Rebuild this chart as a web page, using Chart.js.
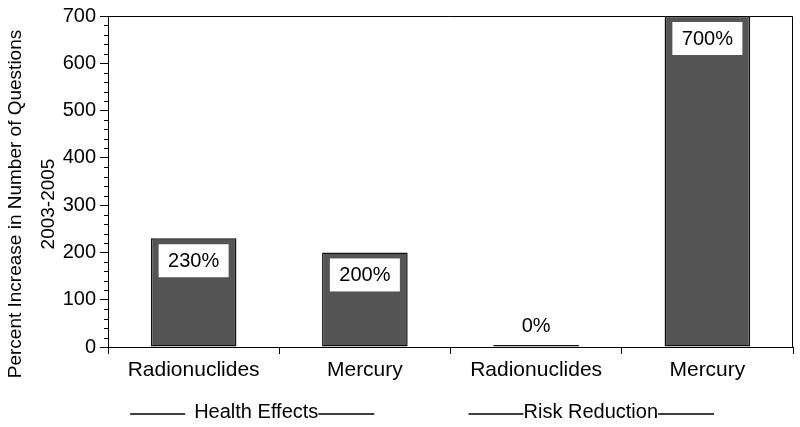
<!DOCTYPE html>
<html>
<head>
<meta charset="utf-8">
<script src="https://cdn.jsdelivr.net/npm/chart.js@4"></script>
<style>
  html, body { margin: 0; padding: 0; background: #fff; }
  #wrap { width: 800px; height: 427px; }
</style>
</head>
<body>
<div id="wrap"><canvas id="chart" width="800" height="427"></canvas></div>
<script>
// Data
const categories = ['Radionuclides', 'Mercury', 'Radionuclides', 'Mercury'];
const percentIncrease = [230, 200, 0, 700];
const groupNames = ['Health Effects', 'Risk Reduction'];
const yTitle = ['Percent Increase in Number of Questions', '2003-2005'];

const FONT = "'Liberation Sans', Arial, Helvetica, sans-serif";

// how each group caption sits: shift from the group centre, gap before text
const groupShift = [-23, -31];
const groupGap = [9, 0];

// Extra drawing: frame, minor ticks, value boxes, group labels, y title
const extras = {
    id: 'extras',
    afterDatasetsDraw(chart) {
        const ctx = chart.ctx;
        const area = chart.chartArea;
        const x = chart.scales.x;
        const y = chart.scales.y;
        ctx.save();

        // top and right frame
        ctx.strokeStyle = '#000';
        ctx.lineWidth = 1;
        ctx.beginPath();
        ctx.moveTo(area.left, area.top + 0.5);
        ctx.lineTo(area.right - 0.5, area.top + 0.5);
        ctx.lineTo(area.right - 0.5, area.bottom);
        ctx.stroke();

        // minor ticks every 20
        ctx.beginPath();
        for (let v = 20; v < 700; v += 20) {
            if (v % 100 === 0) continue;
            const py = Math.round(y.getPixelForValue(v)) + 0.5;
            ctx.moveTo(area.left - 4, py);
            ctx.lineTo(area.left, py);
        }
        ctx.stroke();

        // value labels
        const bars = chart.getDatasetMeta(0).data;
        ctx.font = '20px ' + FONT;
        ctx.textAlign = 'center';
        ctx.textBaseline = 'middle';
        bars.forEach((bar, i) => {
            const txt = percentIncrease[i] + '%';
            if (percentIncrease[i] > 0) {
                const top = bar.y + 6;
                ctx.fillStyle = '#fff';
                ctx.fillRect(bar.x - 35, top, 70, 33);
                ctx.fillStyle = '#000';
                ctx.fillText(txt, bar.x, top + 17);
            } else {
                ctx.fillStyle = '#000';
                ctx.fillText(txt, bar.x, bar.y - 19);
            }
        });

        // group labels with lines
        ctx.font = '20px ' + FONT;
        ctx.lineWidth = 1.5;
        groupNames.forEach((name, g) => {
            const a = x.getPixelForValue(g * 2);
            const b = x.getPixelForValue(g * 2 + 1);
            const mid = (a + b) / 2 + groupShift[g];
            const w = ctx.measureText(name).width;
            const ly = 414;
            ctx.fillStyle = '#000';
            ctx.fillText(name, mid, ly - 2);
            ctx.beginPath();
            ctx.moveTo(mid - w / 2 - groupGap[g] - 55, ly);
            ctx.lineTo(mid - w / 2 - groupGap[g], ly);
            ctx.moveTo(mid + w / 2, ly);
            ctx.lineTo(mid + w / 2 + 56, ly);
            ctx.stroke();
        });

        // y axis title
        ctx.translate(0, 204);
        ctx.rotate(-Math.PI / 2);
        ctx.font = '19px ' + FONT;
        ctx.textBaseline = 'alphabetic';
        ctx.fillText(yTitle[0], 0, 21);
        ctx.fillText(yTitle[1], 0, 54);
        ctx.restore();
    }
};

new Chart(document.getElementById('chart').getContext('2d'), {
    type: 'bar',
    data: {
        labels: categories,
        datasets: [{
            data: percentIncrease,
            backgroundColor: '#555555',
            borderColor: '#111111',
            borderWidth: 1.5,
            borderSkipped: false,
            minBarLength: 2,
            barPercentage: 0.5,
            categoryPercentage: 1
        }]
    },
    options: {
        responsive: false,
        animation: false,
        layout: { padding: { top: 16, right: 7, left: 0, bottom: 0 } },
        plugins: {
            legend: { display: false },
            tooltip: { enabled: false }
        },
        scales: {
            x: {
                afterFit: (s) => { s.height = 80; },
                grid: { offset: true, drawOnChartArea: false, tickLength: 7, color: '#000' },
                border: { color: '#000', width: 1 },
                ticks: { color: '#000', padding: 4, font: { family: FONT, size: 21 } }
            },
            y: {
                min: 0,
                max: 700,
                afterFit: (s) => { s.width = 108; },
                grid: { drawOnChartArea: false, tickLength: 8, color: '#000' },
                border: { color: '#000', width: 1 },
                ticks: { stepSize: 100, color: '#000', padding: 4, font: { family: FONT, size: 20 } }
            }
        }
    },
    plugins: [extras]
});
</script>
</body>
</html>
